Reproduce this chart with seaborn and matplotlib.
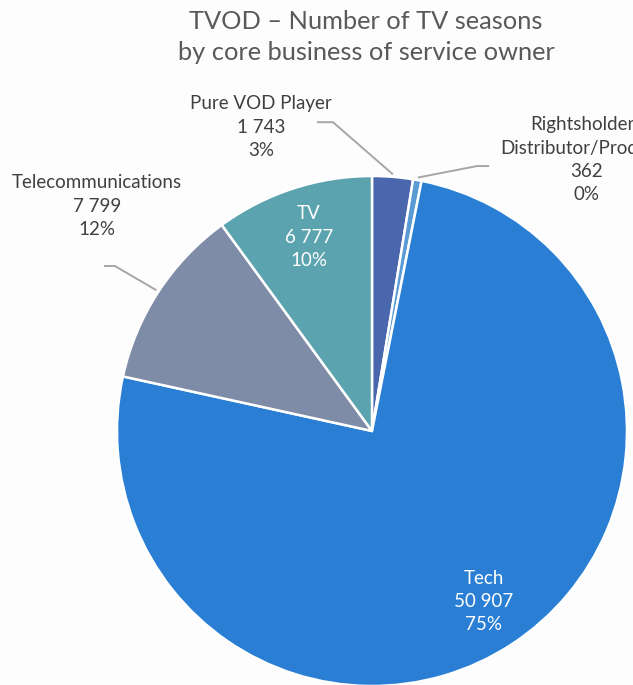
import numpy as np
import matplotlib
matplotlib.use("Agg")
import matplotlib.pyplot as plt
import seaborn as sns

# data
labels = ["Pure VOD Player", "Rightsholder/\nDistributor/Producer", "Tech", "Telecommunications", "TV"]
values = [1743, 362, 50907, 7799, 6777]
pct_text = ["3%", "0%", "75%", "12%", "10%"]
colors = ["#4a66ad", "#5b9bd5", "#2a7fd5", "#7f8ca8", "#5ba3ae"]

sns.set_theme(style="white")
plt.rcParams["font.family"] = ["Lato", "DejaVu Sans"]

W, H = 633, 685
cx, cy, R = 372, 431, 255   # pie centre / radius in pixels

fig = plt.figure(figsize=(W / 100, H / 100), dpi=100, facecolor="#fdfdfd")
ax = fig.add_axes([0, 0, 1, 1])
ax.set_facecolor("#fdfdfd")

wedges, _ = ax.pie(values, colors=colors, startangle=90, counterclock=False,
                   radius=1.0, wedgeprops=dict(edgecolor="white", linewidth=1.8))
# pie() resets the limits, so set them afterwards
ax.set_xlim(-cx / R, (W - cx) / R)
ax.set_ylim(-(H - cy) / R, cy / R)
ax.axis("off")

def fmt(v):
    return f"{v:,}".replace(",", " ")

def mid(w):
    a = np.deg2rad((w.theta1 + w.theta2) / 2)
    return np.cos(a), np.sin(a)

txt_col = "#404040"
fs = 13.5

# inside labels (Tech, TV)
for i in [2, 4]:
    dx, dy = mid(wedges[i])
    ax.text(0.8 * dx, 0.8 * dy, f"{labels[i]}\n{fmt(values[i])}\n{pct_text[i]}",
            ha="center", va="center", color="white", fontsize=fs, linespacing=1.45)

# outside labels with leader lines: (text pos, elbow, line end) in data units
outside = {
    0: ((-0.435, 1.192), (-0.153, 1.211), (-0.216, 1.211)),
    1: ((0.843, 1.063), (0.412, 1.039), (0.459, 1.039)),
    3: ((-1.078, 0.882), (-1.008, 0.647), (-1.051, 0.647)),
}
for i, (tpos, elbow, end) in outside.items():
    ax.text(tpos[0], tpos[1], f"{labels[i]}\n{fmt(values[i])}\n{pct_text[i]}",
            ha="center", va="center", color=txt_col, fontsize=fs, linespacing=1.45)
    dx, dy = mid(wedges[i])
    ax.plot([1.01 * dx, elbow[0], end[0]], [1.01 * dy, elbow[1], end[1]],
            color="#a6a6a6", lw=1.4, solid_capstyle="butt")

fig.text(366 / W, 1 - 37 / H, "TVOD – Number of TV seasons\nby core business of service owner",
         ha="center", va="center", fontsize=18.3, color="#595959", linespacing=1.38)

fig.savefig("out.png", dpi=100, facecolor=fig.get_facecolor())
